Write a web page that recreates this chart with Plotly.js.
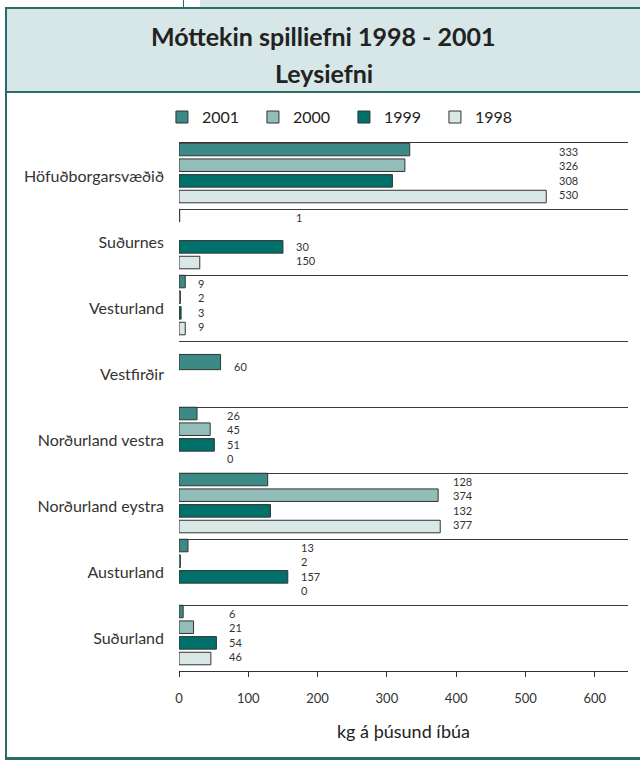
<!DOCTYPE html>
<html>
<head>
<meta charset="utf-8">
<script src="https://cdn.plot.ly/plotly-3.0.1.min.js"></script>
<style>
  body { margin: 0; background: #fff; }
  #wrap { position: relative; width: 640px; height: 763px; overflow: hidden; }
  .deco { position: absolute; }
  #vis { position: absolute; left: 0; top: 0; width: 640px; height: 763px; }
</style>
</head>
<body>
<div id="wrap">
  <!-- frame and header band behind the chart -->
  <div class="deco" style="left:200px;top:0;width:440px;height:7px;background:#d7e6e6;"></div>
  <div class="deco" style="left:183px;top:0;width:1px;height:8px;background:#2a6d68;"></div>
  <div class="deco" style="left:5px;top:7px;width:635px;height:82px;background:#d7e6e6;border-top:2px solid #2a6d68;border-bottom:2px solid #2a6d68;"></div>
  <div class="deco" style="left:5px;top:7px;width:2px;height:752px;background:#2a6d68;"></div>
  <div class="deco" style="left:5px;top:757px;width:635px;height:3px;background:#2a6d68;"></div>
  <div id="vis"></div>
</div>
<script>
const regions = ['Höfuðborgarsvæðið', 'Suðurnes', 'Vesturland', 'Vestfirðir',
  'Norðurland vestra', 'Norðurland eystra', 'Austurland', 'Suðurland']
const years = ['2001', '2000', '1999', '1998']

// kg per thousand inhabitants
const v2001 = [333, 1, 9, 60, 26, 128, 13, 6]
const v2000 = [326, null, 2, null, 45, 374, 2, 21]
const v1999 = [308, 150, 3, null, 51, 132, 157, 54]
const v1998 = [530, 30, 9, null, 0, 377, 0, 46]

// numbers as printed beside each group (Suðurnes is printed out of order in the original)
const t2001 = ['333', '1', '9', '60', '26', '128', '13', '6']
const t2000 = ['326', '', '2', '', '45', '374', '2', '21']
const t1999 = ['308', '30', '3', '', '51', '132', '157', '54']
const t1998 = ['530', '150', '9', '', '0', '377', '0', '46']

const xTicks = [0, 100, 200, 300, 400, 500, 600]

const series = [v2001, v2000, v1999, v1998]
const labels = [t2001, t2000, t1999, t1998]
const colors = ['#3c8a85', '#93bdb9', '#00706a', '#d9e7e7']
// position of each year's bar inside a region band (band = 1 unit)
const slot = [-0.33, -0.14, 0.05, 0.24]
const BAR_W = 0.19
// a region with a single bar gets one thicker bar a bit above the middle
const SINGLE_Y = -0.11
const SINGLE_W = 0.23
const FONT = 'Lato, "Open Sans", sans-serif'

const barCount = regions.map((r, i) => series.filter(s => s[i] != null).length)

const data = series.map((vals, k) => ({
  type: 'bar',
  orientation: 'h',
  name: years[k],
  x: vals,
  y: regions.map((r, i) => i + (barCount[i] === 1 ? SINGLE_Y : slot[k])),
  width: regions.map((r, i) => barCount[i] === 1 ? SINGLE_W : BAR_W),
  marker: {
    color: colors[k],
    // zero values leave no mark at all
    line: { color: '#333', width: vals.map(v => v ? 1 : 0) }
  },
  hovertemplate: '%{x}<extra>' + years[k] + '</extra>'
}))

const annotations = []
regions.forEach((r, i) => {
  const top = Math.max(...series.map(s => s[i] || 0))
  let text, y
  if (barCount[i] === 1) {
    text = labels.map(t => t[i]).filter(Boolean).join('')
    y = i + SINGLE_Y
  } else {
    text = labels.map(t => t[i] || ' ').join('<br>')
    y = i + (slot[0] + slot[3]) / 2
  }
  annotations.push({
    x: top, y: y, xref: 'x', yref: 'y',
    text: text, showarrow: false, xanchor: 'left', yanchor: 'middle', align: 'left',
    xshift: 11,
    font: { family: FONT, size: 11, color: '#333' }
  })
})

// second title line
annotations.push({
  xref: 'paper', yref: 'paper', x: 0.322, y: 1.1326,
  xanchor: 'center', yanchor: 'middle',
  text: '<b>Leysiefni</b>', showarrow: false,
  font: { family: FONT, size: 25, color: '#222' }
})

const layout = {
  width: 640,
  height: 763,
  margin: { l: 179, r: 12, t: 143, b: 92 },
  paper_bgcolor: 'rgba(0,0,0,0)',
  plot_bgcolor: 'rgba(0,0,0,0)',
  font: { family: FONT, color: '#2a2a2a' },
  title: {
    text: '<b>Móttekin spilliefni 1998 - 2001</b>',
    font: { family: FONT, size: 25, color: '#222' },
    xref: 'container', x: 0.505,
    yref: 'container', y: 0.951, yanchor: 'middle'
  },
  showlegend: true,
  legend: {
    orientation: 'h',
    x: -0.038, xanchor: 'left',
    y: 1.049, yanchor: 'middle',
    traceorder: 'normal',
    entrywidth: 46, entrywidthmode: 'pixels',
    font: { family: FONT, size: 16, color: '#222' },
    bgcolor: 'rgba(0,0,0,0)'
  },
  xaxis: {
    range: [0, 648],
    tickvals: xTicks,
    ticks: 'outside', ticklen: 5, tickcolor: '#333',
    showline: true, linecolor: '#333', linewidth: 1, mirror: true,
    showgrid: false, zeroline: false,
    ticklabelstandoff: 10,
    tickfont: { family: FONT, size: 13, color: '#333' },
    title: { text: 'kg á þúsund íbúa', font: { family: FONT, size: 18, color: '#222' }, standoff: 20 },
    fixedrange: true
  },
  yaxis: {
    range: [7.5, -0.5],
    tickvals: regions.map((r, i) => i),
    ticktext: regions,
    ticks: '',
    showgrid: false, zeroline: false, showline: false,
    ticklabelstandoff: 14,
    tickfont: { family: FONT, size: 16, color: '#333' },
    minor: { tick0: 0.5, dtick: 1, showgrid: true, gridcolor: '#3a3a3a', gridwidth: 1, ticks: '' },
    fixedrange: true
  },
  bargap: 0,
  annotations: annotations
}

Plotly.newPlot('vis', data, layout, { displayModeBar: false, staticPlot: true })
</script>
</body>
</html>
